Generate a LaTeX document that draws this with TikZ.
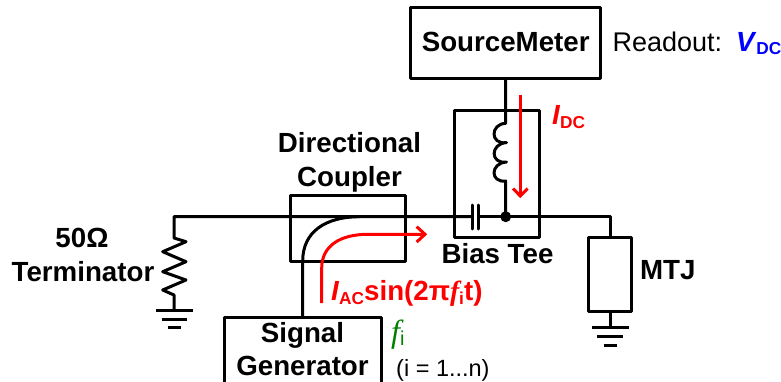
\documentclass[tikz,border=0pt]{standalone}
\usepackage{fontspec}
\setmainfont{Liberation Sans}
\newfontfamily\serifit{Liberation Serif}
\definecolor{fgreen}{RGB}{0,128,0}
\newcommand{\sbs}[1]{\raisebox{-3.5pt}{\fontsize{17.3}{17.3}\selectfont\normalfont\bfseries #1}}
\tikzset{
  wire/.style={line width=3pt,line join=round,line cap=round},
  gnd/.style={line width=3pt},
  redwire/.style={line width=3pt,red,line join=round,line cap=butt},
  box/.style={draw,line width=3pt,rectangle,inner sep=0pt,outer sep=0pt,line join=round},
  lab/.style={font=\fontsize{27.7}{27.7}\selectfont\bfseries,inner sep=0pt,outer sep=0pt},
  reg/.style={font=\fontsize{27}{27}\selectfont,inner sep=0pt,outer sep=0pt}
}
\begin{document}
\begin{tikzpicture}[x=1pt,y=-1pt]
\useasboundingbox (0,0) rectangle (781,382);
\clip (0,0) rectangle (781,382);
% boxes
\node[box,minimum width=190pt,minimum height=71pt] (src) at (505.7,42.8) {};
\node[box,minimum width=85.3pt,minimum height=127.7pt] (tee) at (496.7,173.9) {};
\node[box,minimum width=114.3pt,minimum height=65.3pt] (dc) at (347.9,228.4) {};
\node[box,minimum width=157pt,minimum height=70pt] (sig) at (302.5,352.5) {};
\node[box,minimum width=42.7pt,minimum height=74pt] (mtj) at (610.3,274.7) {};
% junctions
\coordinate (tl) at (174,216.7);
\coordinate (capL) at (472.3,216.7);
\coordinate (capR) at (478.5,216.7);
\coordinate (tr) at (610.3,216.7);
\coordinate (indT) at (505.7,123.3);
\coordinate (indB) at (505.7,181);
\node[circle,fill=black,minimum size=11pt,inner sep=0pt] (dot) at (505.7,216.7) {};
\coordinate (gndR) at (174,310.7);
\coordinate (gndM) at (610.3,327.7);
\coordinate (cplE) at (360,216.7);
\coordinate (cplS) at (302.7,261);
% main line
\draw[wire] (capL) -- (tl) -- (174,238) -- (186,241.7) -- (162.7,251.7) -- (186,261.7) -- (162.7,271.7) -- (186,280) -- (162.7,290) -- (174,295) -- (gndR);
\draw[wire] (capR) -- (dot.center) -- (tr) -- (mtj.north);
\draw[wire] (capL |- 0,205) -- (capL |- 0,229);
\draw[wire] (capR |- 0,205) -- (capR |- 0,229);
% inductor
\draw[wire] (src.south) -- (indT)
  .. controls (490,124) and (490,145) .. (506.5,142.6)
  .. controls (490,143.5) and (490,164.5) .. (506.5,162)
  .. controls (490,163) and (490,183) .. (indB)
  -- (dot.center);
% coupler
\draw[wire] (sig.north -| cplS) -- (cplS) .. controls (302.7,232) and (325,216.7) .. (cplE);
% grounds
\draw[wire] (mtj.south) -- (gndM);
\draw[gnd] (155.7,310.7) -- (192.7,310.7) (161.7,319.3) -- (186.7,319.3) (167.7,327.7) -- (181,327.7);
\draw[gnd] (591.7,327.7) -- (628.7,327.7) (597,336.3) -- (623,336.3) (603.7,345) -- (617,345);
% red arrows
\coordinate (acS) at (321.7,303);
\coordinate (acE) at (425,234.3);
\coordinate (dcS) at (520.3,95);
\coordinate (dcE) at (520.3,196);
\draw[redwire] (acS) -- (321.7,268) .. controls (321.7,246) and (340,234.3) .. (368,234.3) -- (acE);
\draw[redwire,line join=miter] (416.7,226.7) -- (acE) -- (416.7,242);
\draw[redwire] (dcS) -- (dcE);
\draw[redwire,line join=miter] (513,188.5) -- (dcE) -- (527.6,188.5);
% labels
\node[lab,anchor=base] (t1) at (505.7,51.4) {SourceMeter};
\node[reg,anchor=base west] (t2) at (612.5,51.4) {Readout:};
\node[lab,anchor=base west,blue] (t3) at (736,51.4) {\textit{V}\sbs{DC}};
\node[lab,anchor=base west,red] (t4) at (552,124.7) {\textit{I}\sbs{DC}};
\node[lab,anchor=base] (t5) at (349.5,152.7) {Directional};
\node[lab,anchor=base] (t6) at (349.5,186.7) {Coupler};
\node[lab,anchor=base] (t7) at (497.5,263.7) {Bias Tee};
\node[lab,anchor=base] (t8) at (82,247.7) {50Ω};
\node[lab,anchor=base] (t9) at (83,281.7) {Terminator};
\node[lab,anchor=base west] (t10) at (640,279.7) {MTJ};
\node[lab,anchor=base] (t11) at (302.5,342.4) {Signal};
\node[lab,anchor=base] (t12) at (302.5,375.7) {Generator};
\node[lab,anchor=base west,red] (t13) at (331,300.7) {\textit{I}\sbs{AC}sin(2π{\serifit\itshape f}\sbs{i}t)};
\node[anchor=base west,inner sep=0pt,text=fgreen,font=\fontsize{32}{32}\selectfont] (t14) at (391,342) {{\serifit\itshape f}\raisebox{-3.5pt}{\fontsize{20}{20}\selectfont i}};
\node[anchor=base west,inner sep=0pt,font=\fontsize{23.5}{23.5}\selectfont] (t15) at (396,376) {(i = 1...n)};
\end{tikzpicture}
\end{document}
